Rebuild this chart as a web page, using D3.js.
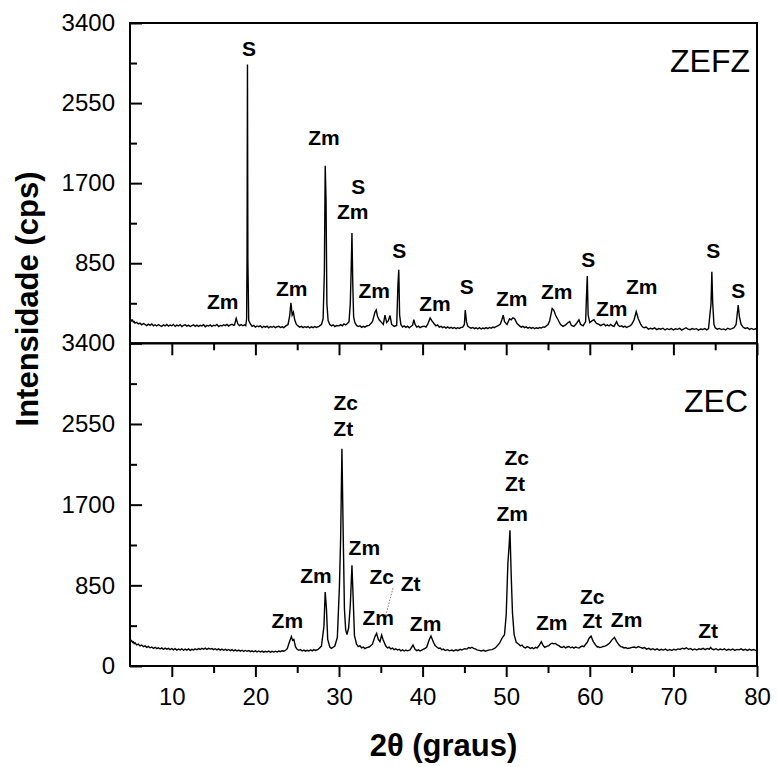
<!DOCTYPE html>
<html>
<head>
<meta charset="utf-8">
<script src="https://cdn.jsdelivr.net/npm/d3@7"></script>
<style>
  body { margin: 0; background: #fff; }
  text { font-family: Arial, "Liberation Sans", sans-serif; fill: #000; }
</style>
</head>
<body>
<script>
// 2theta (graus) vs intensidade (cps)
var zefz = [
  [5.0,265],[5.1,250],[5.2,238],[5.3,245],[5.4,226],[5.5,232],[5.6,215],[5.8,222],[6.0,205],[6.2,214],
  [6.4,196],[6.6,210],[6.8,200],[7.0,188],[7.2,203],[7.4,190],[7.6,206],[7.8,186],[8.0,197],[8.2,184],
  [8.4,199],[8.6,188],[8.8,180],[9.0,196],[9.2,185],[9.4,200],[9.6,182],[9.8,194],[10.0,186],[10.2,201],
  [10.4,180],[10.6,193],[10.8,184],[11.0,198],[11.2,178],[11.4,190],[11.6,197],[11.8,182],[12.0,192],[12.2,178],
  [12.4,188],[12.6,196],[12.8,181],[13.0,193],[13.2,180],[13.4,191],[13.6,185],[13.8,198],[14.0,176],[14.2,190],
  [14.4,183],[14.6,195],[14.8,179],[15.0,192],[15.2,186],[15.4,199],[15.6,178],[15.8,190],[16.0,184],[16.2,197],
  [16.4,188],[16.6,200],[16.8,183],[17.0,195],[17.2,202],[17.4,190],[17.5,195],[17.7,265],[17.9,205],[18.1,188],
  [18.3,198],[18.5,186],[18.7,196],[18.85,188],[18.95,260],
  [19.0,920],[19.05,2960],[19.1,880],[19.2,240],[19.4,205],[19.6,180],[19.8,190],[20.0,172],[20.2,184],[20.4,176],
  [20.6,186],[20.8,168],[21.0,180],[21.2,172],[21.4,182],[21.6,165],[21.8,178],[22.0,170],[22.2,181],[22.4,166],
  [22.6,176],[22.8,180],[23.0,168],[23.2,175],[23.4,166],[23.6,182],[23.9,200],[24.1,290],[24.25,430],[24.4,300],
  [24.55,330],[24.7,250],[24.9,200],[25.1,185],[25.3,172],[25.5,180],[25.7,166],[25.9,176],[26.1,168],[26.3,178],
  [26.5,164],[26.7,175],[26.9,166],[27.1,178],[27.3,168],[27.6,180],
  [27.9,200],[28.1,260],[28.25,760],[28.35,1884],[28.45,1520],[28.55,420],[28.7,240],[28.9,200],[29.1,185],[29.3,196],
  [29.5,178],[29.7,188],[30.0,185],[30.2,198],[30.4,186],[30.6,205],[30.8,195],[31.0,210],[31.2,230],[31.35,420],
  [31.45,760],[31.55,1170],[31.65,620],[31.75,280],[31.9,220],
  [32.1,190],[32.3,178],[32.5,186],[32.7,170],[32.9,180],[33.1,172],[33.3,184],[33.6,190],[34.0,230],[34.3,330],
  [34.45,354],[34.6,290],[34.8,250],
  [35.0,230],[35.3,200],[35.5,300],[35.7,220],[35.9,240],[36.1,295],[36.3,200],[36.6,180],[36.9,190],[37.05,620],
  [37.15,780],[37.25,300],[37.4,200],[37.6,172],[37.8,184],[38.0,170],[38.2,182],[38.4,165],[38.6,178],[38.8,190],
  [38.95,250],[39.1,200],[39.3,172],[39.5,182],[39.7,166],[39.9,176],[40.2,182],[40.4,172],[40.6,200],[40.9,268],
  [41.1,240],[41.4,205],[41.6,186],[41.8,195],[42.0,172],[42.2,180],[42.4,166],[42.6,176],[42.8,162],[43.0,174],
  [43.2,160],[43.4,170],[43.6,158],[43.8,168],[44.0,156],[44.2,166],[44.4,158],[44.6,168],[44.8,172],[45.0,200],
  [45.1,354],[45.25,230],[45.4,182],[45.6,170],[45.8,160],[46.0,168],[46.2,156],[46.4,165],[46.6,154],[46.8,166],
  [47.0,152],[47.2,162],[47.4,155],[47.6,166],[47.8,156],[48.0,168],[48.2,160],[48.4,172],[48.6,166],[48.8,178],
  [49.1,190],[49.3,205],[49.5,255],[49.65,300],[49.8,230],
  [50.1,200],[50.4,260],[50.6,250],[50.8,270],[51.0,262],[51.3,210],[51.6,185],[51.8,172],[52.0,180],[52.2,166],
  [52.4,174],[52.6,160],[52.8,170],[53.0,158],[53.2,168],[53.4,155],[53.6,165],[53.8,158],[54.0,168],[54.2,162],
  [54.4,174],[54.6,170],[54.8,185],[55.0,200],[55.2,240],[55.5,370],[55.7,350],[55.9,300],[56.2,250],
  [56.5,200],[56.8,180],[57.1,195],[57.4,220],[57.6,232],[57.8,190],[58.1,180],[58.4,210],[58.7,250],[58.9,200],
  [59.2,185],[59.5,230],[59.6,490],[59.7,715],[59.8,300],[60.0,220],[60.3,240],[60.5,250],[60.8,210],[61.1,200],
  [61.3,188],[61.5,198],[61.7,205],[61.9,186],[62.1,196],[62.3,184],[62.5,200],[62.7,186],[62.9,180],[63.2,230],
  [63.4,190],[63.6,178],[63.8,186],[64.0,172],[64.2,182],[64.4,168],[64.6,176],[64.8,185],
  [65.0,200],[65.3,250],[65.55,336],[65.8,260],[66.1,200],[66.3,175],[66.5,165],[66.75,172],[67.0,150],[67.25,160],
  [67.5,152],[67.75,163],[68.0,145],[68.25,156],[68.5,150],[68.75,160],[69.0,142],[69.25,155],[69.5,146],[69.75,157],
  [70.0,143],[70.25,154],[70.5,148],[70.75,158],[71.0,140],[71.25,152],[71.5,165],[71.75,150],[72.0,145],[72.25,157],
  [72.5,148],[72.75,155],[73.0,140],[73.25,152],[73.5,146],[73.75,156],[74.0,143],[74.2,155],[74.5,420],[74.6,760],
  [74.7,430],[74.85,200],[75.0,165],[75.25,150],[75.5,158],[75.75,146],[76.0,153],[76.25,142],[76.5,160],[76.75,148],
  [77.0,156],[77.25,165],[77.5,200],[77.75,407],[77.9,280],[78.1,200],[78.35,170],[78.6,158],[78.85,165],[79.1,148],
  [79.35,158],[79.6,146],[79.85,155],[80.0,140]
];

var zec = [
  [5.0,275],[5.1,262],[5.2,268],[5.3,248],[5.4,255],[5.5,236],[5.6,245],[5.8,222],[6.0,230],[6.2,212],
  [6.4,220],[6.6,203],[6.8,212],[7.0,196],[7.2,206],[7.4,192],[7.6,200],[7.8,186],[8.0,197],[8.2,183],
  [8.4,192],[8.6,179],[8.8,190],[9.0,176],[9.2,188],[9.4,178],[9.6,186],[9.8,172],[10.0,184],[10.2,170],
  [10.4,182],[10.6,168],[10.8,179],[11.0,170],[11.2,181],[11.4,166],[11.6,178],[11.8,168],[12.0,180],[12.2,165],
  [12.4,176],[12.6,169],[12.8,180],[13.0,171],[13.2,183],[13.4,174],[13.6,186],[13.8,176],[14.0,188],[14.2,175],
  [14.4,186],[14.6,178],[14.8,184],[15.0,172],[15.2,182],[15.4,170],[15.6,180],[15.8,168],[16.0,178],[16.2,166],
  [16.4,176],[16.6,164],[16.8,174],[17.0,162],[17.2,172],[17.4,160],[17.6,170],[17.8,158],[18.0,168],[18.2,156],
  [18.4,166],[18.6,154],[18.8,164],[19.0,155],[19.2,163],[19.4,151],[19.6,160],[19.8,150],[20.0,159],[20.2,148],
  [20.4,158],[20.6,147],[20.8,157],[21.0,146],[21.2,155],[21.4,148],[21.6,157],[21.8,145],[22.0,154],[22.2,147],
  [22.4,156],[22.6,149],[22.8,158],[23.0,151],[23.2,161],[23.4,156],[23.6,166],[23.8,180],
  [24.1,260],[24.3,310],[24.45,270],[24.6,280],[24.8,200],[25.0,176],[25.2,165],[25.4,172],[25.6,158],[25.8,168],
  [26.0,156],[26.2,166],[26.4,158],[26.6,170],[26.8,160],[27.0,172],[27.2,164],[27.5,175],[27.9,210],[28.2,420],
  [28.35,780],[28.5,600],[28.65,280],[28.9,200],[29.1,186],[29.3,198],[29.5,210],
  [29.8,300],[30.05,835],[30.2,1360],[30.35,2290],[30.5,1400],[30.65,600],[30.8,380],[30.95,330],[31.15,400],[31.35,640],
  [31.55,1060],[31.7,700],[31.85,320],[32.1,230],[32.3,205],[32.5,214],[32.7,192],[32.9,200],[33.1,184],[33.3,194],
  [33.6,200],[34.0,230],[34.3,310],
  [34.5,344],[34.7,280],[34.9,256],[35.1,326],[35.3,270],[35.6,210],[35.8,190],[36.0,198],[36.2,180],[36.4,188],
  [36.6,172],[36.8,182],[37.0,168],[37.2,176],[37.4,160],[37.6,170],[37.8,158],[38.0,168],[38.2,160],[38.5,170],
  [38.85,221],[39.1,175],[39.3,162],[39.5,170],[39.7,158],[40.0,172],[40.3,185],[40.5,200],[40.8,280],[41.0,316],
  [41.3,250],[41.5,215],[41.7,200],[41.9,186],[42.1,190],[42.3,172],[42.5,178],[42.7,164],[43.0,172],[43.2,160],
  [43.5,168],[43.7,158],[44.0,170],[44.2,162],[44.5,175],[44.7,168],[45.0,182],[45.3,178],[45.5,195],[45.7,188],
  [45.9,198],[46.1,186],[46.3,180],[46.5,170],[46.8,165],[47.0,158],[47.3,166],[47.5,156],[47.8,165],[48.0,170],
  [48.3,172],[48.6,185],[48.8,200],[49.2,240],[49.55,300],[49.8,330],[50.0,540],
  [50.2,1080],[50.35,1270],[50.45,1430],[50.6,950],[50.75,560],[50.95,330],[51.2,250],[51.5,230],[51.7,212],[51.9,220],
  [52.1,198],[52.3,190],[52.5,204],[52.7,196],[52.9,184],[53.1,194],[53.3,182],[53.5,196],[53.7,190],[53.9,210],
  [54.2,256],[54.4,220],[54.6,196],[54.8,205],[55.1,215],[55.3,232],[55.5,240],[55.7,234],[55.9,238],[56.1,222],
  [56.3,215],[56.5,200],[56.7,195],[56.9,206],[57.1,190],[57.3,200],[57.5,205],[57.7,192],[57.9,199],[58.1,188],
  [58.3,200],[58.5,194],[58.7,190],[58.9,202],[59.1,210],[59.3,204],[59.5,230],[59.7,250],[59.9,290],
  [60.15,316],[60.4,260],[60.7,220],[60.9,200],[61.0,205],[61.2,194],[61.4,198],[61.6,206],[61.8,210],[62.0,216],
  [62.2,230],[62.4,245],[62.6,270],[62.95,302],[63.2,260],[63.5,220],[63.7,204],[63.9,200],[64.1,190],[64.3,195],
  [64.5,184],[64.8,190],[65.05,196],[65.3,200],[65.55,192],[65.8,205],[66.05,196],[66.3,188],[66.55,194],[66.8,178],
  [67.05,186],[67.3,172],[67.55,182],[67.8,170],[68.05,180],[68.3,166],[68.55,176],[68.8,168],[69.05,178],[69.3,163],
  [69.55,174],[69.8,165],[70.05,176],[70.3,168],[70.55,180],[70.8,175],[71.05,188],[71.3,180],[71.55,192],[71.8,176],
  [72.05,184],[72.3,170],[72.55,180],[72.8,168],[73.05,182],[73.3,174],[73.55,186],[73.8,172],[74.05,184],[74.3,178],
  [74.45,196],[74.6,180],[74.85,172],[75.1,182],[75.35,168],[75.6,178],[75.85,170],[76.1,180],[76.35,166],[76.6,176],
  [76.85,168],[77.1,179],[77.35,165],[77.6,175],[77.85,170],[78.1,181],[78.35,167],[78.6,176],[78.85,164],[79.1,175],
  [79.35,166],[79.6,174],[79.85,163],[80.0,170]
];

// phase labels: [text, 2theta, intensity]
var zefzLabels = [
  ["S",19.23,3130],["Zm",16.08,442],["Zm",24.34,584],["Zm",28.21,2189],["S",32.31,1664],["Zm",31.64,1398],
  ["Zm",34.22,566],["S",37.21,984],["Zm",41.48,425],["S",45.28,601],["Zm",50.66,478],["Zm",56.04,548],
  ["S",59.82,885],["Zm",62.62,372],["Zm",66.21,601],["S",74.77,984],["S",77.76,566]
];
var zecLabels = [
  ["Zc",30.80,2782],["Zt",30.51,2502],["Zm",23.82,484],["Zm",27.25,958],["Zm",33.03,1249],["Zc",35.11,947],
  ["Zt",38.57,870],["Zm",34.69,513],["Zm",40.36,449],["Zc",51.25,2193],["Zt",51.05,1923],["Zm",50.73,1607],
  ["Zm",55.44,456],["Zc",60.29,737],["Zt",60.29,484],["Zm",64.40,492],["Zt",74.16,372]
];
var zecLeader = [[36.46,821],[35.44,484]];

var yTicks = [0,850,1700,2550,3400];
var yMinor = [425,1275,2125,2975];
var xTicks = [10,20,30,40,50,60,70,80];
var xMinor = [15,25,35,45,55,65,75];

var W = 778, H = 767;
var left = 130, right = 757, top1 = 23, mid = 343.3, bottom = 666;

var svg = d3.select("body").append("svg").attr("width", W).attr("height", H);

var x = d3.scaleLinear().domain([5,80]).range([left,right]);
var yTop = d3.scaleLinear().domain([0,3400]).range([mid,top1]);
var yBot = d3.scaleLinear().domain([0,3400]).range([bottom,mid]);
var fmt = d3.format("d");

function styleAxis(g){
  g.select(".domain").remove();
  g.selectAll(".tick line").attr("stroke","#000").attr("stroke-width",2);
  g.selectAll(".tick text").attr("font-size",24).attr("fill","#111")
    .style("font-family","Arial, 'Liberation Sans', sans-serif");
}

// y axes, ticks pointing inward
svg.append("g").attr("transform","translate("+left+",0)")
  .call(d3.axisLeft(yTop).tickValues(yTicks.slice(1)).tickFormat(fmt).tickSize(-12).tickPadding(15)).call(styleAxis);
svg.append("g").attr("transform","translate("+left+",0)")
  .call(d3.axisLeft(yTop).tickValues(yMinor).tickSize(-7).tickFormat("")).call(styleAxis);
svg.append("g").attr("transform","translate("+left+",0)")
  .call(d3.axisLeft(yBot).tickValues(yTicks).tickFormat(fmt).tickSize(-12).tickPadding(15)).call(styleAxis);
svg.append("g").attr("transform","translate("+left+",0)")
  .call(d3.axisLeft(yBot).tickValues(yMinor).tickSize(-7).tickFormat("")).call(styleAxis);

// x axes
svg.append("g").attr("transform","translate(0,"+bottom+")")
  .call(d3.axisBottom(x).tickValues(xTicks).tickFormat(fmt).tickSize(11).tickPadding(11)).call(styleAxis);
svg.append("g").attr("transform","translate(0,"+bottom+")")
  .call(d3.axisBottom(x).tickValues(xMinor).tickSize(7).tickFormat("")).call(styleAxis);
svg.append("g").attr("transform","translate(0,"+mid+")")
  .call(d3.axisTop(x).tickValues(xTicks).tickSize(-12).tickFormat("")).call(styleAxis);
svg.append("g").attr("transform","translate(0,"+mid+")")
  .call(d3.axisTop(x).tickValues(xMinor).tickSize(-7).tickFormat("")).call(styleAxis);

// patterns
var lineTop = d3.line().x(function(d){return x(d[0]);}).y(function(d){return yTop(d[1]);});
var lineBot = d3.line().x(function(d){return x(d[0]);}).y(function(d){return yBot(d[1]);});
svg.append("path").datum(zefz).attr("d",lineTop).attr("fill","none").attr("stroke","#000").attr("stroke-width",1.4);
svg.append("path").datum(zec).attr("d",lineBot).attr("fill","none").attr("stroke","#000").attr("stroke-width",1.4);

// leader line to the Zc/Zt peak
svg.append("path").datum(zecLeader).attr("d",lineBot).attr("fill","none")
  .attr("stroke","#777").attr("stroke-width",1).attr("stroke-dasharray","1.5,1.5");

// frames
svg.append("rect").attr("x",left).attr("y",top1).attr("width",right-left).attr("height",mid-top1)
  .attr("fill","none").attr("stroke","#000").attr("stroke-width",2);
svg.append("rect").attr("x",left).attr("y",mid).attr("width",right-left).attr("height",bottom-mid)
  .attr("fill","none").attr("stroke","#000").attr("stroke-width",2);

// peak labels
function drawLabels(data, y){
  svg.append("g").selectAll("text").data(data).enter().append("text")
    .attr("x",function(d){return x(d[1]);})
    .attr("y",function(d){return y(d[2]);})
    .attr("dy","0.36em")
    .attr("text-anchor","middle")
    .attr("font-size",21).attr("font-weight","bold")
    .text(function(d){return d[0];});
}
drawLabels(zefzLabels, yTop);
drawLabels(zecLabels, yBot);

// sample names
svg.append("text").attr("x",right-7).attr("y",72).attr("text-anchor","end")
  .attr("font-size",32).text("ZEFZ");
svg.append("text").attr("x",right-9).attr("y",412).attr("text-anchor","end")
  .attr("font-size",32).text("ZEC");

// axis titles
svg.append("text").attr("transform","translate(38,299) rotate(-90)").attr("text-anchor","middle")
  .attr("font-size",31).attr("font-weight","bold").text("Intensidade (cps)");
svg.append("text").attr("x",(left+right)/2).attr("y",756).attr("text-anchor","middle")
  .attr("font-size",31).attr("font-weight","bold").text("2θ (graus)");
</script>
</body>
</html>
